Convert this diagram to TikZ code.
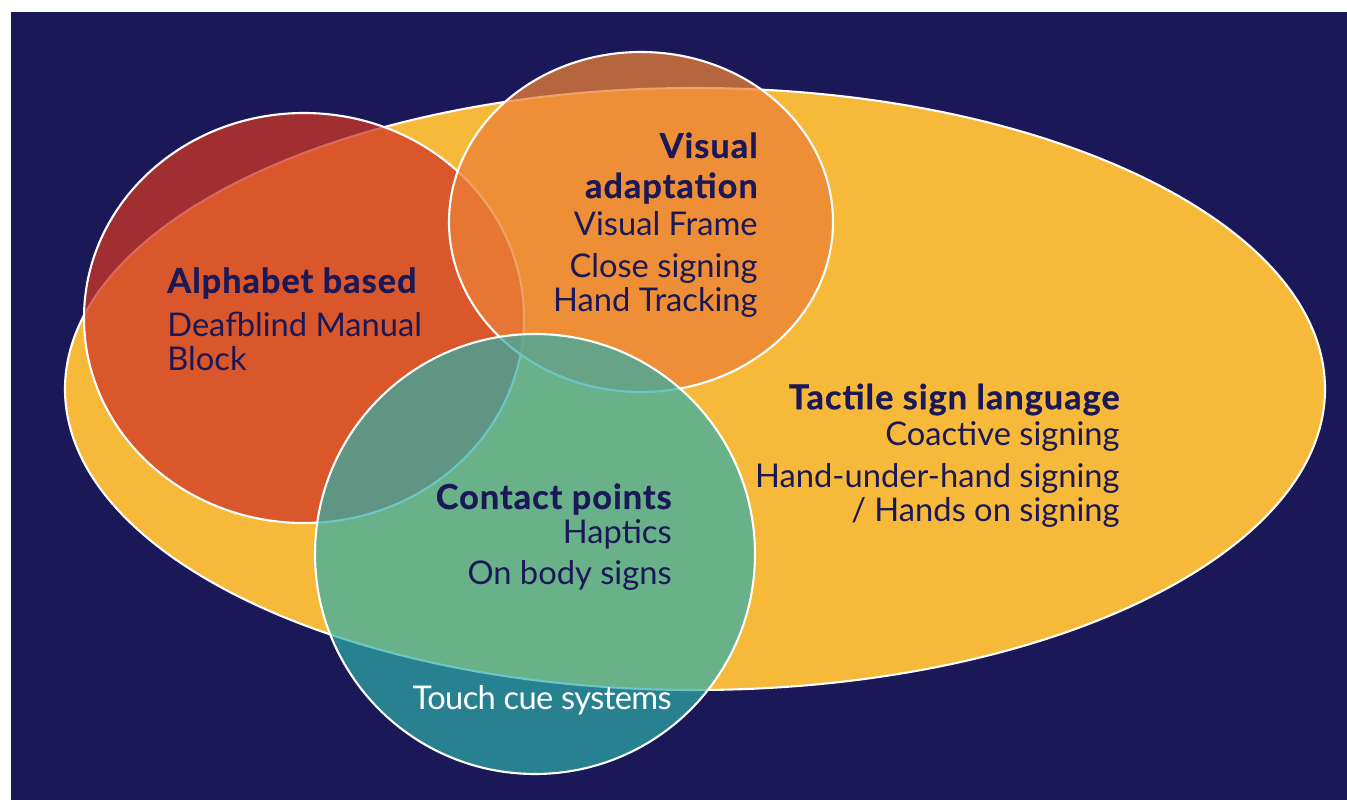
\documentclass[tikz,border=0pt]{standalone}
\usepackage{fontspec}
\setmainfont{Lato}

\definecolor{navy}{RGB}{27,24,88}
\definecolor{sunny}{RGB}{247,185,58}
\definecolor{brick}{RGB}{207,55,37}
\definecolor{tangerine}{RGB}{235,129,54}
\definecolor{sea}{RGB}{46,174,170}

% heavier, wider headings
\newcommand{\heading}[1]{{\fontsize{19.5}{19.4}\selectfont\bfseries\addfontfeatures{LetterSpace=3,FakeBold=0.8}#1}}

\begin{document}
\begin{tikzpicture}[x=0.02cm,y=-0.02cm,
    region/.style={draw=white,line width=1.2pt,fill opacity=0.75},
    txt/.style={font=\fontsize{18.6}{19.4}\selectfont,text=navy,inner sep=0pt}]

\useasboundingbox (0,0) rectangle (1347,800);
\fill[white] (0,0) rectangle (1347,800);
\fill[navy] (11,12) rectangle (1347,800);

% the four sets
\draw[draw=white,line width=1.2pt,fill=sunny] (695,389) ellipse [x radius=630,y radius=301];
\draw[region,fill=brick] (304,318) ellipse [x radius=220,y radius=205];
\draw[region,fill=tangerine] (641,222) ellipse [x radius=192,y radius=170];
\draw[region,fill=sea,fill opacity=0.7] (535,554) circle [radius=220];

% labels (anchored at the baseline of the last line)
\node[txt,anchor=base east,align=right] (visual) at (758,312)
    {\heading{Visual}\\[3.4pt]\heading{adaptation}\\[1.7pt]Visual Frame\\[5pt]Close signing\\Hand Tracking};
\node[txt,anchor=base west,align=left] (alphabet) at (167,371)
    {\heading{Alphabet based}\\[5.7pt]Deafblind Manual\\Block};
\node[txt,anchor=base east,align=right] (tactile) at (1120,522)
    {\heading{Tactile sign language}\\[1pt]Coactive signing\\[5pt]Hand-under-hand signing\\/ Hands on signing};
\node[txt,anchor=base east,align=right] (contact) at (672,585)
    {\heading{Contact points}\\Haptics\\[4.5pt]On body signs};
\node[txt,anchor=base east,text=white] (touch) at (672,710)
    {\addfontfeatures{LetterSpace=-2}Touch cue systems};

\end{tikzpicture}
\end{document}
